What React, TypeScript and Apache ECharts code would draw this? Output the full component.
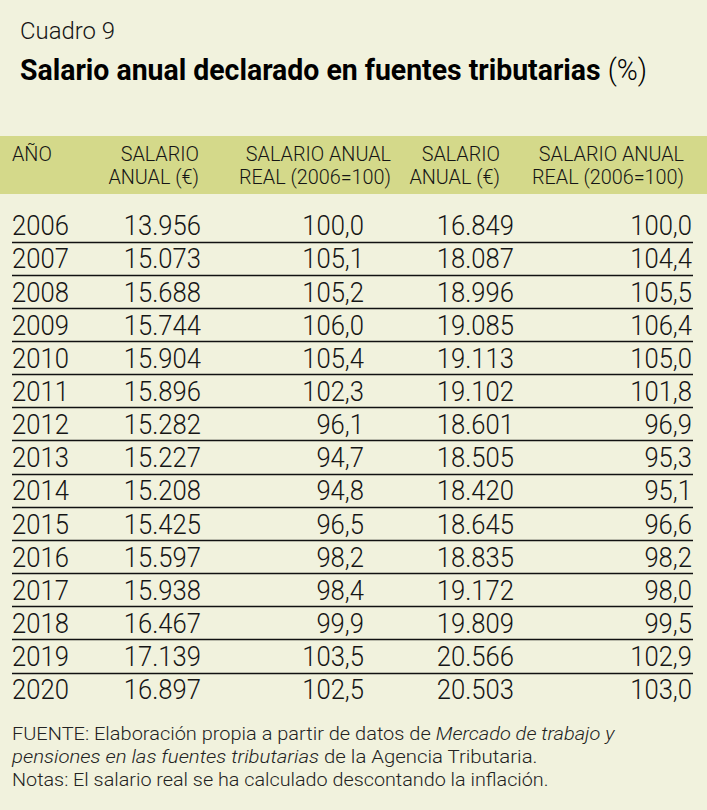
import React, { useEffect, useRef } from "react";
import * as echarts from "echarts";

// ---- data ----
const years = ["2006","2007","2008","2009","2010","2011","2012","2013","2014","2015","2016","2017","2018","2019","2020"];
const salarioAnual1 = ["13.956","15.073","15.688","15.744","15.904","15.896","15.282","15.227","15.208","15.425","15.597","15.938","16.467","17.139","16.897"];
const salarioReal1 = ["100,0","105,1","105,2","106,0","105,4","102,3","96,1","94,7","94,8","96,5","98,2","98,4","99,9","103,5","102,5"];
const salarioAnual2 = ["16.849","18.087","18.996","19.085","19.113","19.102","18.601","18.505","18.420","18.645","18.835","19.172","19.809","20.566","20.503"];
const salarioReal2 = ["100,0","104,4","105,5","106,4","105,0","101,8","96,9","95,3","95,1","96,6","98,2","98,0","99,5","102,9","103,0"];
const headerLine1 = ["AÑO", "SALARIO", "SALARIO ANUAL", "SALARIO", "SALARIO ANUAL"];
const headerLine2 = ["", "ANUAL (€)", "REAL (2006=100)", "ANUAL (€)", "REAL (2006=100)"];
const kicker = "Cuadro 9";
const title = "Salario anual declarado en fuentes tributarias";
const titleUnit = "(%)";

// ---- layout / style ----
const FONT = 'Roboto, "Noto Sans", sans-serif';
const BG = "#F1F2DD";
const BAND = "#D4D98A";
const INK = "#151515";
const colAnchors = [12, 201, 364, 514, 692];
const colAlign = ["left", "right", "right", "right", "right"];
const headerAnchors = [12, 199, 391, 500, 684];

export default function App() {
  const ref = useRef<HTMLDivElement>(null);
  useEffect(() => {
    document.body.style.margin = "0";
    document.body.style.overflow = "hidden";
    if (!ref.current) return;
    const chart = echarts.init(ref.current, null, { renderer: "svg" });
    const columns = [years, salarioAnual1, salarioReal1, salarioAnual2, salarioReal2];

    const headerEls: any[] = [];
    headerLine1.forEach((t, i) => {
      headerEls.push({
        type: "text", x: headerAnchors[i], y: 154, scaleX: 0.99,
        style: { text: t, fill: INK, font: `300 20px ${FONT}`, textAlign: i === 0 ? "left" : "right", textVerticalAlign: "middle" },
      });
      if (headerLine2[i]) {
        headerEls.push({
          type: "text", x: headerAnchors[i], y: 177, scaleX: 0.99,
          style: { text: headerLine2[i], fill: INK, font: `300 20px ${FONT}`, textAlign: "right", textVerticalAlign: "middle" },
        });
      }
    });

    const footRich = {
      n: { fontFamily: FONT, fontSize: 18.5, fontWeight: 300, fill: "#222" },
      i: { fontFamily: FONT, fontSize: 18.5, fontWeight: 300, fontStyle: "italic", fill: "#222" },
    };

    chart.setOption({
      animation: false,
      backgroundColor: BG,
      grid: { left: 0, right: 0, top: 208.4, bottom: 104.3, containLabel: false },
      xAxis: { type: "value", min: 0, max: 707, show: false },
      yAxis: { type: "category", data: years, inverse: true, show: false },
      graphic: [
        { type: "rect", shape: { x: 0, y: 136, width: 707, height: 58 }, style: { fill: BAND } },
        ...headerEls,
        {
          type: "text", x: 20, y: 31, scaleX: 1.04,
          style: { text: kicker, fill: INK, font: `300 23px ${FONT}`, textAlign: "left", textVerticalAlign: "middle" },
        },
        {
          type: "text", x: 20, y: 70, scaleX: 0.98,
          style: {
            text: `{b|${title}}{l| ${titleUnit}}`,
            rich: {
              b: { fontFamily: FONT, fontSize: 29, fontWeight: "bold", fill: "#000" },
              l: { fontFamily: FONT, fontSize: 29, fontWeight: 300, fill: "#000" },
            },
            textAlign: "left", textVerticalAlign: "middle",
          },
        },
        {
          type: "text", x: 12, y: 734, scaleX: 1.08,
          style: {
            text: "{n|FUENTE: Elaboración propia a partir de datos de }{i|Mercado de trabajo y}",
            rich: footRich, textAlign: "left", textVerticalAlign: "middle",
          },
        },
        {
          type: "text", x: 12, y: 757, scaleX: 1.1,
          style: {
            text: "{i|pensiones en las fuentes tributarias}{n| de la Agencia Tributaria.}",
            rich: footRich, textAlign: "left", textVerticalAlign: "middle",
          },
        },
        {
          type: "text", x: 12, y: 780, scaleX: 1.07,
          style: {
            text: "Notas: El salario real se ha calculado descontando la inflación.",
            fill: "#222", font: `300 18.5px ${FONT}`, textAlign: "left", textVerticalAlign: "middle",
          },
        },
      ],
      series: [
        {
          type: "custom",
          coordinateSystem: "cartesian2d",
          data: years.map((_, i) => [0, i]),
          renderItem: (params: any, api: any) => {
            const row = api.value(1);
            const bandH = api.size([0, 1])[1];
            const children: any[] = [];
            columns.forEach((col, c) => {
              const p = api.coord([colAnchors[c], row]);
              children.push({
                type: "text", x: p[0], y: p[1] + 1, scaleX: 0.95,
                style: { text: col[row], fill: INK, font: `300 27px ${FONT}`, textAlign: colAlign[c], textVerticalAlign: "middle" },
              });
            });
            if (row < years.length - 1) {
              const a = api.coord([12, row]);
              const b = api.coord([693, row]);
              const y = Math.round(a[1] + bandH / 2) + 0.5;
              children.push({
                type: "line",
                shape: { x1: a[0], y1: y, x2: b[0], y2: y },
                style: { stroke: "#111", lineWidth: 1.5 },
              });
            }
            return { type: "group", children };
          },
        },
      ],
    });
    return () => chart.dispose();
  }, []);
  return <div ref={ref} style={{ width: 707, height: 810 }} />;
}
